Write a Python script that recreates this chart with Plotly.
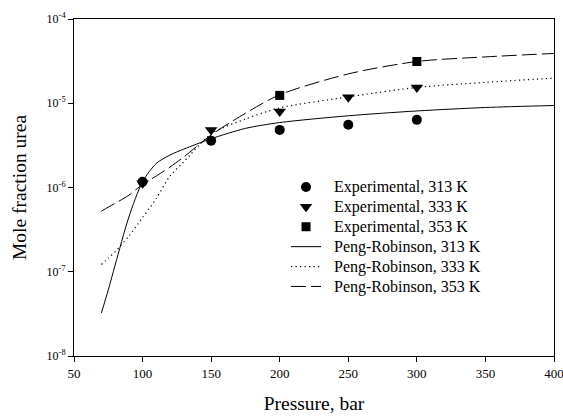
import plotly.graph_objects as go

# Experimental data
p_exp_313 = [100, 150, 200, 250, 300]
y_exp_313 = [1.17e-6, 3.6e-6, 4.83e-6, 5.55e-6, 6.35e-6]
p_exp_333 = [100, 150, 200, 250, 300]
y_exp_333 = [1.12e-6, 4.83e-6, 7.96e-6, 1.18e-5, 1.54e-5]
p_exp_353 = [200, 300]
y_exp_353 = [1.24e-5, 3.13e-5]

# Peng-Robinson model curves
p_pr = [70, 75, 80, 90, 100, 110, 120, 130, 150, 175, 200, 250, 300, 350, 400]
y_pr_313 = [3.25e-8, 6.1e-8, 1.2e-7, 4.46e-7, 1.17e-6, 1.93e-6, 2.43e-6, 2.85e-6,
            3.79e-6, 5.03e-6, 5.9e-6, 7.1e-6, 8.1e-6, 8.9e-6, 9.4e-6]
y_pr_333 = [1.22e-7, 1.45e-7, 1.73e-7, 2.65e-7, 4.4e-7, 7.4e-7, 1.37e-6, 2.01e-6,
            4.33e-6, 6.5e-6, 8.8e-6, 1.19e-5, 1.54e-5, 1.77e-5, 1.99e-5]
y_pr_353 = [5.25e-7, 5.85e-7, 6.5e-7, 8.1e-7, 1.09e-6, 1.37e-6, 1.75e-6, 2.3e-6,
            4.2e-6, 7.6e-6, 1.26e-5, 2.23e-5, 3.13e-5, 3.55e-5, 3.9e-5]

x_ticks = [50, 100, 150, 200, 250, 300, 350, 400]
y_tickvals = [1e-8, 1e-7, 1e-6, 1e-5, 1e-4]
y_ticktext = ["10<sup>-8</sup>", "10<sup>-7</sup>", "10<sup>-6</sup>",
              "10<sup>-5</sup>", "10<sup>-4</sup>"]

FONT = "Liberation Serif, Times New Roman, serif"


def label(s):
    return '<span style="font-size:16px">\u00a0\u00a0' + s + "</span>"


fig = go.Figure()
fig.add_trace(go.Scatter(x=p_exp_313, y=y_exp_313, mode="markers",
                         name=label("Experimental, 313 K"),
                         marker=dict(symbol="circle", size=10, color="black")))
fig.add_trace(go.Scatter(x=p_exp_333, y=y_exp_333, mode="markers",
                         name=label("Experimental, 333 K"),
                         marker=dict(symbol="triangle-down", size=11, color="black")))
fig.add_trace(go.Scatter(x=p_exp_353, y=y_exp_353, mode="markers",
                         name=label("Experimental, 353 K"),
                         marker=dict(symbol="square", size=9, color="black")))
fig.add_trace(go.Scatter(x=p_pr, y=y_pr_313, mode="lines", line_shape="spline",
                         line_smoothing=0.8,
                         name=label("Peng-Robinson, 313 K"),
                         line=dict(color="black", width=1, dash="solid")))
fig.add_trace(go.Scatter(x=p_pr, y=y_pr_333, mode="lines", line_shape="spline",
                         line_smoothing=0.8,
                         name=label("Peng-Robinson, 333 K"),
                         line=dict(color="black", width=1.2, dash="1.2px,3.3px")))
fig.add_trace(go.Scatter(x=p_pr, y=y_pr_353, mode="lines", line_shape="spline",
                         line_smoothing=0.8,
                         name=label("Peng-Robinson, 353 K"),
                         line=dict(color="black", width=1, dash="15px,5px")))

fig.update_layout(
    width=563, height=416,
    margin=dict(l=74, r=9, t=19, b=60),
    paper_bgcolor="white", plot_bgcolor="white",
    font=dict(family=FONT, color="black", size=12),
    showlegend=True,
    legend=dict(x=0.4417, y=0.546, xanchor="left", yanchor="top",
                bgcolor="rgba(0,0,0,0)", borderwidth=0,
                font=dict(family=FONT, size=13, color="black")),
    xaxis=dict(range=[50, 400], tickvals=x_ticks, ticks="outside", ticklen=5,
               tickwidth=1, tickcolor="black", showline=True, linecolor="black",
               linewidth=1, mirror=True, showgrid=False, zeroline=False,
               automargin=False, ticklabeloverflow="allow",
               tickfont=dict(family=FONT, size=13),
               title=dict(text="Pressure, bar", font=dict(family=FONT, size=19.5),
                          standoff=16)),
    yaxis=dict(type="log", range=[-8, -4], tickvals=y_tickvals, ticktext=y_ticktext,
               ticks="outside", ticklen=5, tickwidth=1, tickcolor="black",
               showline=True, linecolor="black", linewidth=1, mirror=True,
               showgrid=False, zeroline=False, automargin=False,
               tickfont=dict(family=FONT, size=12),
               title=dict(text="Mole fraction urea", font=dict(family=FONT, size=19.5),
                          standoff=14)),
)

fig.write_html("out.html", config={"displayModeBar": False},
               post_script="document.body.style.margin='0';")
